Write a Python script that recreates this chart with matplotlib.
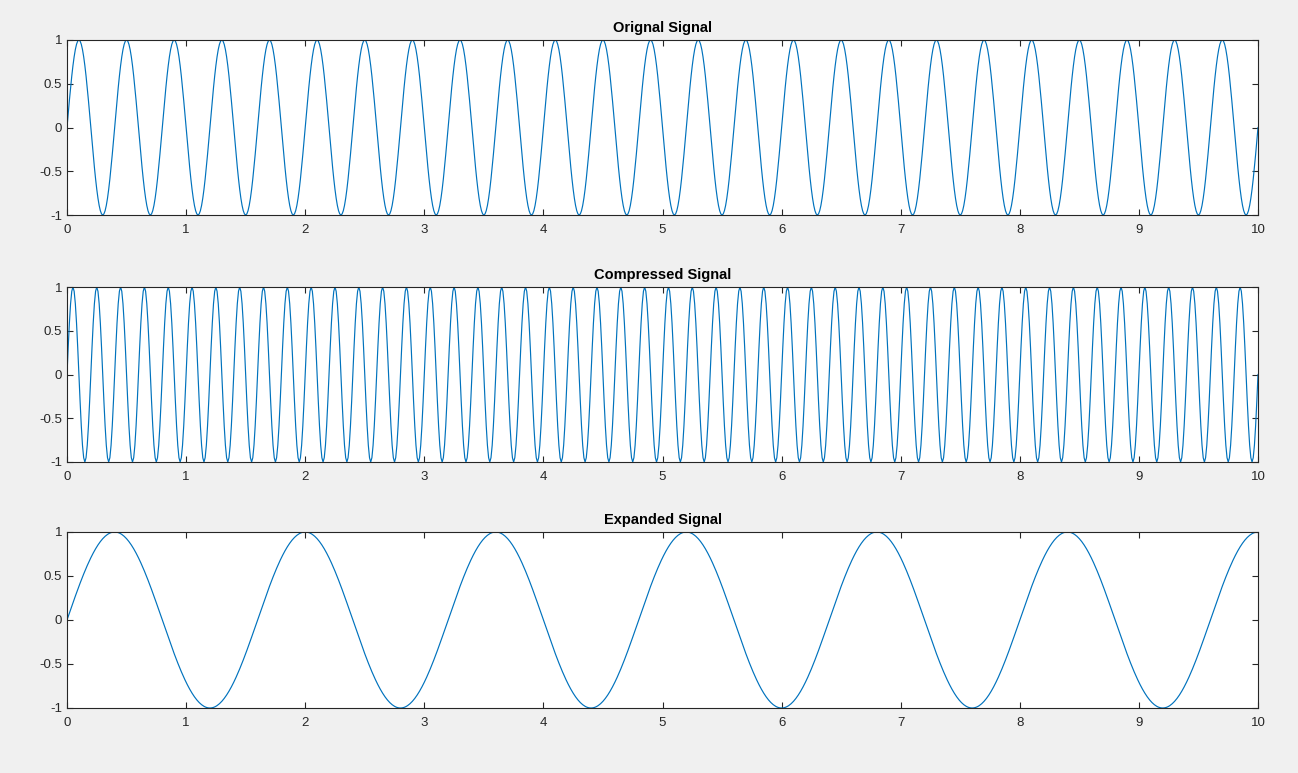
import numpy as np
import matplotlib.pyplot as plt

# signal parameters
f0 = 2.5                      # original frequency (Hz), period 0.4 s
scales = [1, 2, 0.25]         # original, compressed (x2), expanded (x1/4)
titles = ["Orignal Signal", "Compressed Signal", "Expanded Signal"]
t = np.arange(0, 10.001, 0.01)
xticks = list(range(0, 11))
yticks = [-1, -0.5, 0, 0.5, 1]
ytick_labels = ["-1", "-0.5", "0", "0.5", "1"]

plt.rcParams["font.family"] = ["Liberation Sans", "DejaVu Sans"]

fig = plt.figure(figsize=(12.98, 7.73), dpi=100, facecolor="#f0f0f0")

W, H = 1298, 773
left, right = 67, 1258
rows = [(40, 215), (287, 462), (532, 708)]

for (top, bot), k, title in zip(rows, scales, titles):
    ax = fig.add_axes([left / W, 1 - bot / H, (right - left) / W, (bot - top) / H])
    y = np.sin(2 * np.pi * f0 * k * t)
    ax.plot(t, y, color="#0072BD", linewidth=0.85)
    ax.set_xlim(0, 10)
    ax.set_ylim(-1, 1)
    ax.set_xticks(xticks)
    ax.set_yticks(yticks)
    ax.set_yticklabels(ytick_labels)
    ax.tick_params(direction="in", top=True, right=True, length=4,
                   width=0.8, color="#262626", labelcolor="#262626", labelsize=9.5)
    ax.tick_params(axis="x", pad=6.5)
    for s in ax.spines.values():
        s.set_color("#262626")
        s.set_linewidth(0.8)
    ax.set_title(title, fontsize=10.5, fontweight="bold", color="black", pad=5.5)

plt.savefig("out.png", dpi=100, facecolor=fig.get_facecolor())
